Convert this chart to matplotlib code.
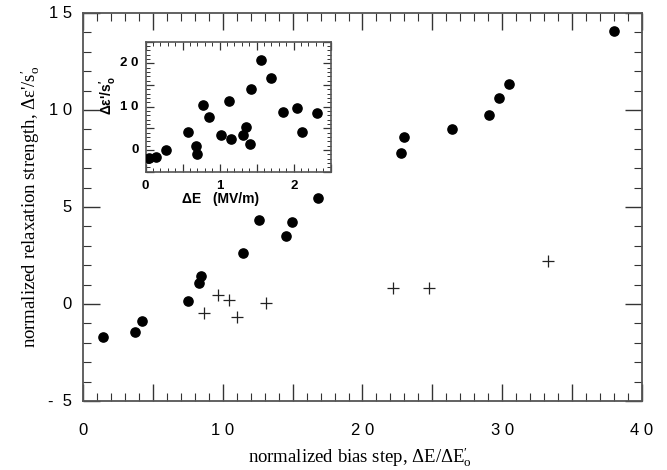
import matplotlib.pyplot as plt
from matplotlib.ticker import MultipleLocator

plt.rcParams['mathtext.fontset'] = 'custom'
plt.rcParams['mathtext.rm'] = 'Liberation Serif'
plt.rcParams['mathtext.it'] = 'Liberation Serif:italic'
plt.rcParams['mathtext.bf'] = 'Liberation Sans:bold'

#%% data
# main panel, filled circles
dots_x = [1.44, 3.72, 4.20, 7.54, 8.32, 8.44, 11.47, 14.53, 12.62, 14.96, 16.84,
          22.75, 22.97, 26.38, 29.07, 29.79, 30.48, 37.97]
dots_y = [-1.69, -1.46, -0.88, 0.17, 1.10, 1.46, 2.64, 3.50, 4.33, 4.24, 5.45,
          7.77, 8.63, 9.00, 9.73, 10.64, 11.32, 14.09]

# main panel, crosses
cross_x = [8.66, 9.64, 10.45, 11.04, 13.07, 22.20, 24.76, 33.25]
cross_y = [-0.45, 0.46, 0.21, -0.65, 0.03, 0.84, 0.84, 2.22]

# inset, field step in MV/m vs relaxation strength
inset_x = [0.05, 0.14, 0.28, 0.57, 0.68, 0.70, 0.78, 0.85, 1.02, 1.13, 1.15,
           1.32, 1.36, 1.41, 1.42, 1.56, 1.70, 1.86, 2.05, 2.11, 2.31]
inset_y = [-1.9, -1.6, 0.1, 4.05, 1.0, -1.0, 10.5, 7.65, 3.36, 11.26, 2.44,
           3.36, 5.29, 1.29, 14.0, 20.8, 16.7, 8.87, 9.66, 4.2, 8.5]

main_xticks = [0, 10, 20, 30, 40]
main_xlabels = ['0', '1 0', '2 0', '3 0', '4 0']
main_yticks = [-5, 0, 5, 10, 15]
main_ylabels = ['-  5', '0', '5', '1 0', '1 5']
inset_xticks = [0, 1, 2]
inset_xlabels = ['0', '1', '2']
inset_yticks = [0, 10, 20]
inset_ylabels = ['0', '1 0', '2 0']

spine_col = '#555555'

#%% main panel
fig = plt.figure(figsize=(6.67, 4.70), dpi=100)
ax = fig.add_axes([0.1244, 0.1468, 0.8381, 0.8255])

ax.scatter(dots_x, dots_y, s=44, color='black', zorder=3)
ax.scatter(cross_x, cross_y, s=75, marker='+', color='#222222', linewidths=0.9, zorder=3)

ax.set_xlim(0, 40)
ax.set_ylim(-5, 15)

for sp in ax.spines.values():
    sp.set_color(spine_col)
    sp.set_linewidth(1.3)

ax.xaxis.set_major_locator(MultipleLocator(5))
ax.xaxis.set_minor_locator(MultipleLocator(1))
ax.yaxis.set_major_locator(MultipleLocator(5))
ax.yaxis.set_minor_locator(MultipleLocator(1))
ax.tick_params(which='both', direction='in', top=True, right=True, color='#333333')
ax.tick_params(which='major', length=12, width=1.0)
ax.tick_params(which='minor', length=6, width=0.8)
ax.tick_params(axis='x', which='major', labelbottom=False)
ax.tick_params(axis='y', which='major', labelleft=False)

# tick labels drawn as their own text (labels only every 10 on x)
for v, lab in zip(main_xticks, main_xlabels):
    ax.annotate(lab, (v, 0), xycoords=('data', 'axes fraction'),
                xytext=(0, -22), textcoords='offset pixels',
                ha='center', va='top', fontsize=12, family='Liberation Sans')
for v, lab in zip(main_yticks, main_ylabels):
    ax.annotate(lab, (0, v), xycoords=('axes fraction', 'data'),
                xytext=(-11, 0), textcoords='offset pixels',
                ha='right', va='center', fontsize=12, family='Liberation Sans')

fig.text(0.54, 0.028, r"normalized bias step, $\Delta$E/$\Delta$E$_\mathrm{o}^{\prime}$",
         ha='center', va='center', fontsize=13.5, family='Liberation Serif')
fig.text(0.045, 0.56, r"normalized relaxation strength, $\Delta$ε'/s$_\mathrm{o}^{\prime}$",
         ha='center', va='center', rotation=90, fontsize=13.5, family='Liberation Serif')

#%% inset
ins = fig.add_axes([0.2184, 0.6347, 0.2774, 0.2766])
ins.scatter(inset_x, inset_y, s=44, color='black', zorder=3)
ins.set_xlim(0, 2.5)
ins.set_ylim(-5, 25)
for sp in ins.spines.values():
    sp.set_color(spine_col)
    sp.set_linewidth(1.2)
ins.xaxis.set_major_locator(MultipleLocator(0.5))
ins.xaxis.set_minor_locator(MultipleLocator(0.1))
ins.yaxis.set_major_locator(MultipleLocator(5))
ins.yaxis.set_minor_locator(MultipleLocator(1))
ins.tick_params(which='both', direction='in', top=True, right=True, color='#333333')
ins.tick_params(which='major', length=6, width=0.9)
ins.tick_params(which='minor', length=3, width=0.7)
ins.tick_params(axis='x', which='major', labelbottom=False)
ins.tick_params(axis='y', which='major', labelleft=False)

for v, lab in zip(inset_xticks, inset_xlabels):
    ins.annotate(lab, (v, 0), xycoords=('data', 'axes fraction'),
                 xytext=(0, -8), textcoords='offset pixels',
                 ha='center', va='top', fontsize=9.5, fontweight='bold',
                 family='Liberation Sans')
for v, lab in zip(inset_yticks, inset_ylabels):
    ins.annotate(lab, (0, v), xycoords=('axes fraction', 'data'),
                 xytext=(-7, 0), textcoords='offset pixels',
                 ha='right', va='center', fontsize=9.5, fontweight='bold',
                 family='Liberation Sans')

fig.text(0.330, 0.577, "ΔE   (MV/m)", ha='center', va='center', fontsize=10,
         fontweight='bold', family='Liberation Sans')
fig.text(0.163, 0.797, r"Δε'/s$_\mathbf{o}^{\mathbf{\prime}}$", ha='center', va='center',
         rotation=90, fontsize=10, fontweight='bold', family='Liberation Sans')

fig.savefig('out.png', dpi=100)
